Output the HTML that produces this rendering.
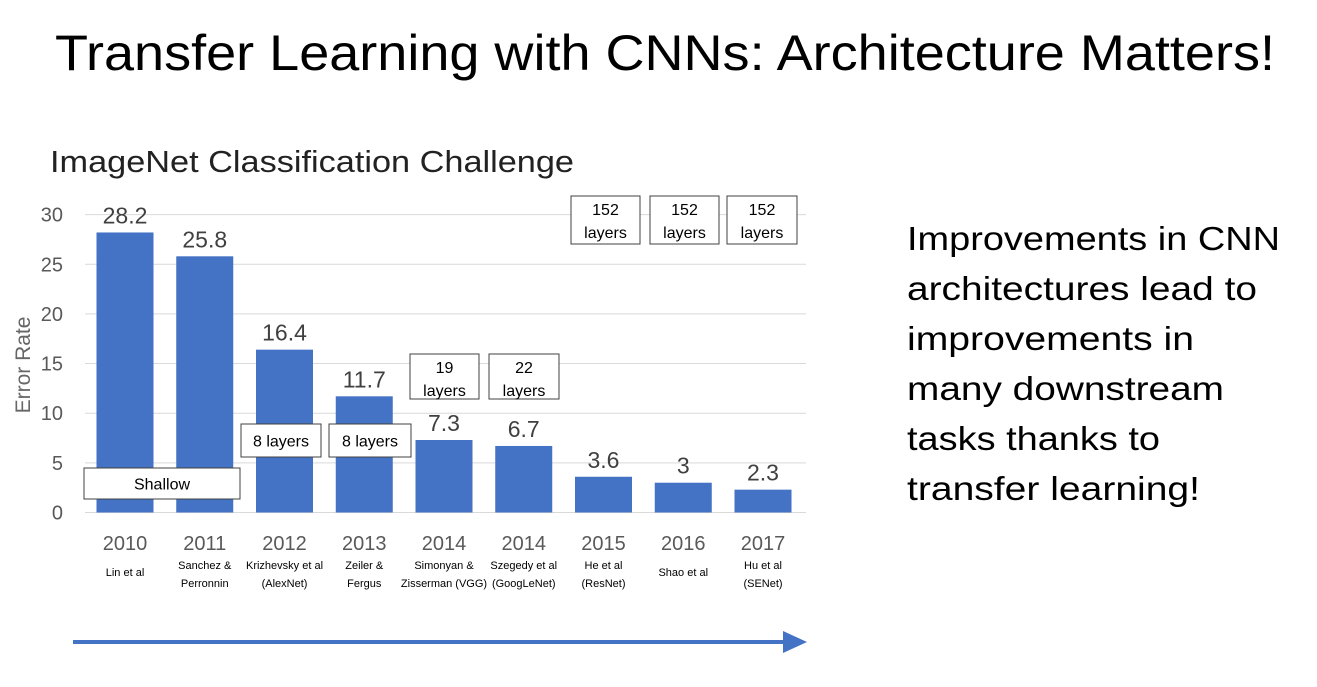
<!DOCTYPE html>
<html><head><meta charset="utf-8"><style>
body{margin:0;background:#fff;width:1317px;height:682px;overflow:hidden;font-family:"Liberation Sans",sans-serif}
svg text{font-family:"Liberation Sans",sans-serif}
</style></head><body>
<svg width="1317" height="682">
<text x="55" y="70" font-size="50" textLength="1220" lengthAdjust="spacingAndGlyphs" fill="#000">Transfer Learning with CNNs: Architecture Matters!</text>
<text x="50" y="172" font-size="31" textLength="524" lengthAdjust="spacingAndGlyphs" fill="#222">ImageNet Classification Challenge</text>
<g id="chart"></g>
<text transform="translate(30,365) rotate(-90)" font-size="21" fill="#666" text-anchor="middle">Error Rate</text>
<g font-size="33" fill="#000" lengthAdjust="spacingAndGlyphs">
<text x="907" y="250" textLength="373" lengthAdjust="spacingAndGlyphs">Improvements in CNN</text>
<text x="907" y="300" textLength="350" lengthAdjust="spacingAndGlyphs">architectures lead to</text>
<text x="907" y="350" textLength="287" lengthAdjust="spacingAndGlyphs">improvements in</text>
<text x="907" y="400" textLength="317" lengthAdjust="spacingAndGlyphs">many downstream</text>
<text x="907" y="450" textLength="253" lengthAdjust="spacingAndGlyphs">tasks thanks to</text>
<text x="907" y="500" textLength="293" lengthAdjust="spacingAndGlyphs">transfer learning!</text>
</g>
<line x1="73" y1="642" x2="785" y2="642" stroke="#4472c4" stroke-width="4"/>
<polygon points="783,631 807,642 783,653" fill="#4472c4"/>
</svg>
<script>
const years=["2010","2011","2012","2013","2014","2014","2015","2016","2017"];
const authors1=["Lin et al","Sanchez &","Krizhevsky et al","Zeiler &","Simonyan &","Szegedy et al","He et al","Shao et al","Hu et al"];
const authors2=["","Perronnin","(AlexNet)","Fergus","Zisserman (VGG)","(GoogLeNet)","(ResNet)","",'(SENet)'];
const errors=[28.2,25.8,16.4,11.7,7.3,6.7,3.6,3,2.3];
const valueLabels=["28.2","25.8","16.4","11.7","7.3","6.7","3.6","3","2.3"];
const yTicks=[0,5,10,15,20,25,30];
const NS="http://www.w3.org/2000/svg";
const g=document.getElementById('chart');
const y0=512.5,pxPer=9.93,x0=125,step=79.75,bw=57;
const ys=v=>y0-v*pxPer, xs=i=>x0+i*step;
function mk(t,a,txt){const e=document.createElementNS(NS,t);for(const k in a)e.setAttribute(k,a[k]);if(txt!==undefined)e.textContent=txt;g.appendChild(e);return e;}
yTicks.forEach(v=>{
 const l=mk('line',{x1:85,x2:806,y1:ys(v),y2:ys(v),stroke:'#d9d9d9','stroke-width':1});
 
 
 const t=mk('text',{x:63,y:ys(v)+7,'font-size':20,fill:'#595959','text-anchor':'end'},String(v));
 
 
});
errors.forEach((v,i)=>{
 const r=mk('rect',{x:xs(i)-bw/2,y:ys(v),width:bw,height:y0-ys(v),fill:'#4472c4'});
 
 
 const t=mk('text',{x:xs(i),y:ys(v)-9,'font-size':23,fill:'#404040','text-anchor':'middle'},valueLabels[i]);
 
 
 const yl=mk('text',{x:xs(i),y:550,'font-size':20,fill:'#595959','text-anchor':'middle'},years[i]);
 
 
 const two=authors2[i]!=='';
 const a1=mk('text',{x:xs(i),y:two?569:576,'font-size':11,fill:'#000','text-anchor':'middle'},authors1[i]);
 
 
 if(two){const a2=mk('text',{x:xs(i),y:587,'font-size':11,fill:'#000','text-anchor':'middle'},authors2[i]);
 
 }
});
const boxes=[[84,468,156,31,["Shallow"]],[241,424,80,33,["8 layers"]],[329,424,82,33,["8 layers"]],[410,354,69,45,["19","layers"]],[489,354,70,45,["22","layers"]],[571,196,69,48,["152","layers"]],[650,196,69,48,["152","layers"]],[727,196,70,48,["152","layers"]]];
boxes.forEach(b=>{
 const r=mk('rect',{x:b[0],y:b[1],width:b[2],height:b[3],fill:'#fff',stroke:'#404040','stroke-width':1});
 
 
 b[4].forEach((s,k)=>{
  const n=b[4].length;
  const t=mk('text',{x:b[0]+b[2]/2,y:n==1?b[1]+b[3]/2+6:b[1]+19+k*23,'font-size':16,fill:'#000','text-anchor':'middle'},s);
  
  
 });
});
</script>
</body></html>
